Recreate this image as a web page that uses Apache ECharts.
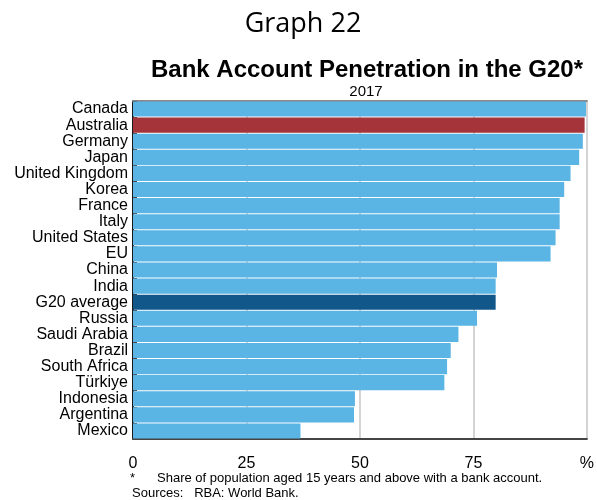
<!DOCTYPE html>
<html>
<head>
<meta charset="utf-8">
<script src="https://cdn.jsdelivr.net/npm/echarts@6/dist/echarts.min.js"></script>
<style>
  html, body { margin: 0; padding: 0; background: #fff; }
  #chart { width: 597px; height: 500px; }
</style>
</head>
<body>
<div id="chart"></div>
<script>
// Share of population aged 15+ with a bank account, 2017 (%)
const countries = [
  'Canada', 'Australia', 'Germany', 'Japan', 'United Kingdom', 'Korea', 'France',
  'Italy', 'United States', 'EU', 'China', 'India', 'G20 average', 'Russia',
  'Saudi Arabia', 'Brazil', 'South Africa', 'Türkiye', 'Indonesia', 'Argentina', 'Mexico'
];
const penetration = [
  99.8, 99.5, 99.1, 98.3, 96.4, 95.0, 94.0,
  94.0, 93.1, 92.0, 80.2, 79.9, 79.9, 75.8,
  71.7, 70.0, 69.2, 68.6, 48.9, 48.7, 36.9
];
const xTicks = [0, 25, 50, 75, 100];

const BLUE = '#5AB4E4';
const RED = '#A4343A';
const NAVY = '#12578A';

function barColour(name) {
  if (name === 'Australia') return RED;
  if (name === 'G20 average') return NAVY;
  return BLUE;
}

const chart = echarts.init(document.getElementById('chart'), null, { renderer: 'canvas' });
const FONT = '"Liberation Sans", Arial, sans-serif';

chart.setOption({
  animation: false,
  backgroundColor: '#fff',
  title: [
    { text: 'Graph 22', left: 298, top: 6, textAlign: 'center',
      textStyle: { fontFamily: '"Open Sans", sans-serif', fontWeight: 'normal', fontSize: 27, color: '#000' } },
    { text: 'Bank Account Penetration in the G20*', left: 362, top: 53, textAlign: 'center',
      textStyle: { fontFamily: FONT, fontWeight: 'bold', fontSize: 24, color: '#000' } },
    { text: '2017', left: 361, top: 79, textAlign: 'center',
      textStyle: { fontFamily: FONT, fontWeight: 'normal', fontSize: 15, color: '#000' } }
  ],
  graphic: [
    { type: 'text', left: 130, top: 472,
      style: { text: '*', font: '13px ' + FONT, fill: '#000' } },
    { type: 'text', left: 157, top: 472,
      style: { text: 'Share of population aged 15 years and above with a bank account.', font: '13px ' + FONT, fill: '#000' } },
    { type: 'text', left: 132, top: 487,
      style: { text: 'Sources:   RBA: World Bank.', font: '13px ' + FONT, fill: '#000' } }
  ],
  grid: { left: 133, right: 7, top: 101, height: 338, containLabel: false },
  xAxis: [
    {
      type: 'value', min: 0, max: 100, interval: 25,
      axisLine: { show: true, lineStyle: { color: '#444', width: 2 } },
      axisTick: { show: false },
      splitLine: { show: true, lineStyle: { color: '#d4d4d4', width: 2 } },
      axisLabel: {
        margin: 17, fontFamily: FONT, fontSize: 16, color: '#000',
        formatter: v => (v === xTicks[xTicks.length - 1] ? '%' : String(v))
      }
    },
    {
      type: 'value', position: 'top', min: 0, max: 100,
      axisLine: { show: true, lineStyle: { color: '#888', width: 2 } },
      axisTick: { show: false }, axisLabel: { show: false }, splitLine: { show: false }
    }
  ],
  yAxis: [
    {
      type: 'category', data: countries, inverse: true,
      axisLine: { show: true, lineStyle: { color: '#444', width: 1.5 } },
      axisTick: { show: true, inside: true, length: 4, lineStyle: { color: '#444' } },
      axisLabel: { interval: 0, margin: 5, fontFamily: FONT, fontSize: 16, color: '#000' }
    },
    {
      type: 'category', data: countries, inverse: true, position: 'right',
      axisLine: { show: true, lineStyle: { color: '#000', width: 1.5 } },
      axisTick: { show: false }, axisLabel: { show: false }
    }
  ],
  series: [{
    type: 'bar',
    barCategoryGap: '6%',
    data: countries.map((c, i) => ({ value: penetration[i], itemStyle: { color: barColour(c) } })),
    silent: true
  }]
});
</script>
</body>
</html>
